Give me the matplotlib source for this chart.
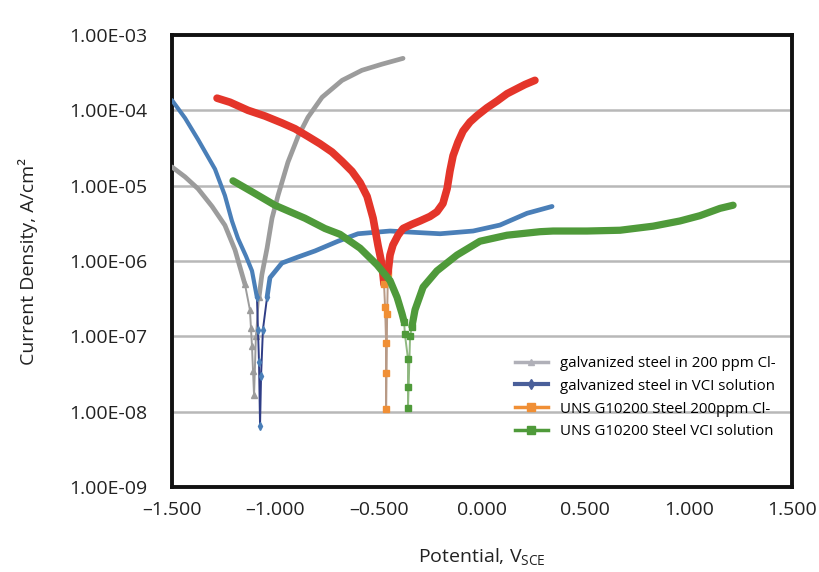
import matplotlib
matplotlib.use('Agg')
import matplotlib.pyplot as plt
from matplotlib.ticker import FixedLocator, FixedFormatter, NullLocator

plt.rcParams['font.family'] = ['Open Sans', 'DejaVu Sans']

# galvanized steel in 200 ppm Cl-  (potential V_SCE, current density A/cm2)
gray_cath_E = [-1.500, -1.437, -1.374, -1.306, -1.244, -1.195, -1.147]
gray_cath_i = [1.77e-5, 1.31e-5, 9.1e-6, 5.3e-6, 2.98e-6, 1.40e-6, 4.9e-7]
gray_tip_E = [-1.147, -1.123, -1.118, -1.113, -1.108, -1.103, -1.094, -1.079]
gray_tip_i = [4.9e-7, 2.25e-7, 1.3e-7, 7.4e-8, 3.5e-8, 1.66e-8, 1.0e-7, 3.3e-7]
gray_anod_E = [-1.079, -1.065, -1.040, -1.016, -0.987, -0.939, -0.890, -0.842,
               -0.774, -0.677, -0.581, -0.484, -0.382]
gray_anod_i = [3.3e-7, 6.6e-7, 1.48e-6, 3.7e-6, 7.4e-6, 2.05e-5, 4.5e-5, 8.1e-5,
               1.49e-4, 2.5e-4, 3.4e-4, 4.1e-4, 4.9e-4]

# galvanized steel in VCI solution
blue_cath_E = [-1.500, -1.437, -1.374, -1.292, -1.244, -1.210, -1.181, -1.142, -1.113, -1.089]
blue_cath_i = [1.36e-4, 7.9e-5, 4.1e-5, 1.66e-5, 7.4e-6, 3.4e-6, 2.0e-6, 1.16e-6, 7.4e-7, 3.3e-7]
blue_tip_E = [-1.089, -1.084, -1.079, -1.074, -1.069, -1.060, -1.040]
blue_tip_i = [3.3e-7, 1.23e-7, 4.5e-8, 6.5e-9, 3.0e-8, 1.23e-7, 3.3e-7]
blue_anod_E = [-1.040, -1.026, -0.968, -0.890, -0.808, -0.697, -0.600, -0.445,
               -0.203, -0.043, 0.087, 0.218, 0.339]
blue_anod_i = [3.3e-7, 6.0e-7, 9.4e-7, 1.13e-6, 1.36e-6, 1.83e-6, 2.3e-6, 2.5e-6,
               2.3e-6, 2.5e-6, 3.0e-6, 4.3e-6, 5.3e-6]

# UNS G10200 Steel 200ppm Cl-
red_cath_E = [-1.282, -1.219, -1.132, -1.050, -0.968, -0.905, -0.842, -0.784, -0.726,
              -0.677, -0.629, -0.590, -0.556, -0.527, -0.503, -0.484, -0.474]
red_cath_i = [1.45e-4, 1.28e-4, 1.0e-4, 8.4e-5, 6.8e-5, 5.7e-5, 4.5e-5, 3.6e-5, 2.8e-5,
              2.1e-5, 1.55e-5, 1.1e-5, 7.2e-6, 3.7e-6, 1.6e-6, 8.9e-7, 4.9e-7]
red_tip_E = [-0.474, -0.469, -0.464, -0.464, -0.464, -0.459, -0.455]
red_tip_i = [4.9e-7, 2.45e-7, 8.1e-8, 3.3e-8, 1.1e-8, 2.0e-7, 7.0e-7]
red_anod_E = [-0.455, -0.445, -0.431, -0.406, -0.382, -0.339, -0.300, -0.252, -0.218,
              -0.189, -0.169, -0.155, -0.140, -0.116, -0.092, -0.058, -0.024, 0.024,
              0.073, 0.121, 0.169, 0.208, 0.256]
red_anod_i = [7.0e-7, 1.2e-6, 1.63e-6, 2.2e-6, 2.7e-6, 3.07e-6, 3.4e-6, 3.9e-6, 4.5e-6,
              5.8e-6, 9.1e-6, 1.57e-5, 2.5e-5, 3.8e-5, 5.3e-5, 7.0e-5, 8.5e-5, 1.08e-4,
              1.33e-4, 1.66e-4, 1.94e-4, 2.2e-4, 2.5e-4]

# UNS G10200 Steel VCI solution
green_cath_E = [-1.205, -1.113, -1.002, -0.857, -0.760, -0.687, -0.590, -0.508,
                -0.445, -0.411, -0.387, -0.377]
green_cath_i = [1.16e-5, 8.3e-6, 5.5e-6, 3.7e-6, 2.7e-6, 2.26e-6, 1.48e-6, 8.9e-7,
                5.5e-7, 3.3e-7, 2.0e-7, 1.57e-7]
green_tip_E = [-0.377, -0.373, -0.358, -0.358, -0.358, -0.348, -0.339]
green_tip_i = [1.57e-7, 1.06e-7, 5.0e-8, 2.1e-8, 1.13e-8, 1.0e-7, 1.35e-7]
green_anod_E = [-0.339, -0.324, -0.285, -0.218, -0.121, -0.010, 0.121, 0.281, 0.344,
                0.508, 0.668, 0.828, 0.958, 1.055, 1.152, 1.215]
green_anod_i = [1.35e-7, 2.25e-7, 4.5e-7, 7.4e-7, 1.2e-6, 1.83e-6, 2.2e-6, 2.45e-6, 2.5e-6,
                2.5e-6, 2.56e-6, 2.9e-6, 3.4e-6, 4.0e-6, 5.0e-6, 5.5e-6]

labels = ['galvanized steel in 200 ppm Cl-', 'galvanized steel in VCI solution',
          'UNS G10200 Steel 200ppm Cl-', 'UNS G10200 Steel VCI solution']

x_ticks = [-1.5, -1.0, -0.5, 0.0, 0.5, 1.0, 1.5]
x_ticklabels = ['\u20131.500', '\u20131.000', '\u20130.500', '0.000', '0.500', '1.000', '1.500']
y_ticks = [1e-9, 1e-8, 1e-7, 1e-6, 1e-5, 1e-4, 1e-3]
y_ticklabels = ['1.00E-09', '1.00E-08', '1.00E-07', '1.00E-06', '1.00E-05', '1.00E-04', '1.00E-03']

GRAY = '#9c9c9c'
BLUE = '#4a7fb8'
RED = '#e4352a'
ORANGE = '#f08f35'
GREEN = '#4f9a3a'

fig = plt.figure(figsize=(8.19, 5.72), dpi=100)
ax = fig.add_axes([172 / 819, 1 - 487 / 572, 620 / 819, 452 / 572])

thick = dict(solid_capstyle='round', solid_joinstyle='round')

# gray
ax.plot(gray_cath_E, gray_cath_i, color=GRAY, lw=3.4, zorder=3, **thick)
ax.plot(gray_tip_E, gray_tip_i, color=GRAY, lw=1.4, marker='^', ms=4, zorder=3)
ax.plot(gray_anod_E, gray_anod_i, color=GRAY, lw=3.4, zorder=3, **thick)
# blue
ax.plot(blue_cath_E, blue_cath_i, color=BLUE, lw=3.0, zorder=4, **thick)
ax.plot(blue_tip_E, blue_tip_i, color='#2f3d86', lw=1.4, marker='d', ms=4,
        mfc=BLUE, mec=BLUE, zorder=4)
ax.plot(blue_anod_E, blue_anod_i, color=BLUE, lw=3.4, zorder=4, **thick)
# red / orange
ax.plot(red_cath_E, red_cath_i, color=RED, lw=5.5, zorder=5, **thick)
ax.plot(red_tip_E, red_tip_i, color='#b89a86', lw=1.4, marker='s', ms=5,
        mfc=ORANGE, mec=ORANGE, zorder=5)
ax.plot(red_anod_E, red_anod_i, color=RED, lw=5.5, zorder=5, **thick)
# green
ax.plot(green_cath_E, green_cath_i, color=GREEN, lw=5.2, zorder=6, **thick)
ax.plot(green_tip_E, green_tip_i, color='#8fb880', lw=1.4, marker='s', ms=5,
        mfc=GREEN, mec=GREEN, zorder=6)
ax.plot(green_anod_E, green_anod_i, color=GREEN, lw=5.2, zorder=6, **thick)

# legend proxies
handles = [
    plt.Line2D([], [], color='#b0b0b8', lw=2.5, marker='^', ms=5),
    plt.Line2D([], [], color='#4a5f9a', lw=3, marker='d', ms=5),
    plt.Line2D([], [], color=ORANGE, lw=2.5, marker='s', ms=6),
    plt.Line2D([], [], color=GREEN, lw=2.5, marker='s', ms=6),
]
ax.legend(handles, labels, loc='upper left', bbox_to_anchor=(0.553, 0.29),
          frameon=False, fontsize=10.8, handlelength=2.2, handletextpad=0.8,
          labelspacing=0.52, borderaxespad=0, borderpad=0)

ax.set_yscale('log')
ax.set_xlim(-1.5, 1.5)
ax.set_ylim(1e-9, 1e-3)
ax.xaxis.set_major_locator(FixedLocator(x_ticks))
ax.xaxis.set_major_formatter(FixedFormatter(x_ticklabels))
ax.yaxis.set_major_locator(FixedLocator(y_ticks))
ax.yaxis.set_major_formatter(FixedFormatter(y_ticklabels))
ax.yaxis.set_minor_locator(NullLocator())
ax.tick_params(axis='both', length=0, labelsize=14, colors='#222222')
ax.tick_params(axis='y', pad=18)
ax.tick_params(axis='x', pad=10)

ax.grid(axis='y', color='#b8b8b8', lw=1.8, zorder=0)
ax.set_axisbelow(True)
for s in ax.spines.values():
    s.set_linewidth(2.8)
    s.set_color('#111111')

ax.set_xlabel(r'Potential, V$_{\mathregular{SCE}}$', fontsize=14, labelpad=20, color='#222222')
ax.set_ylabel('Current Density, A/cm\u00b2', fontsize=14, labelpad=22, color='#222222')

fig.savefig('out.png', dpi=100)
